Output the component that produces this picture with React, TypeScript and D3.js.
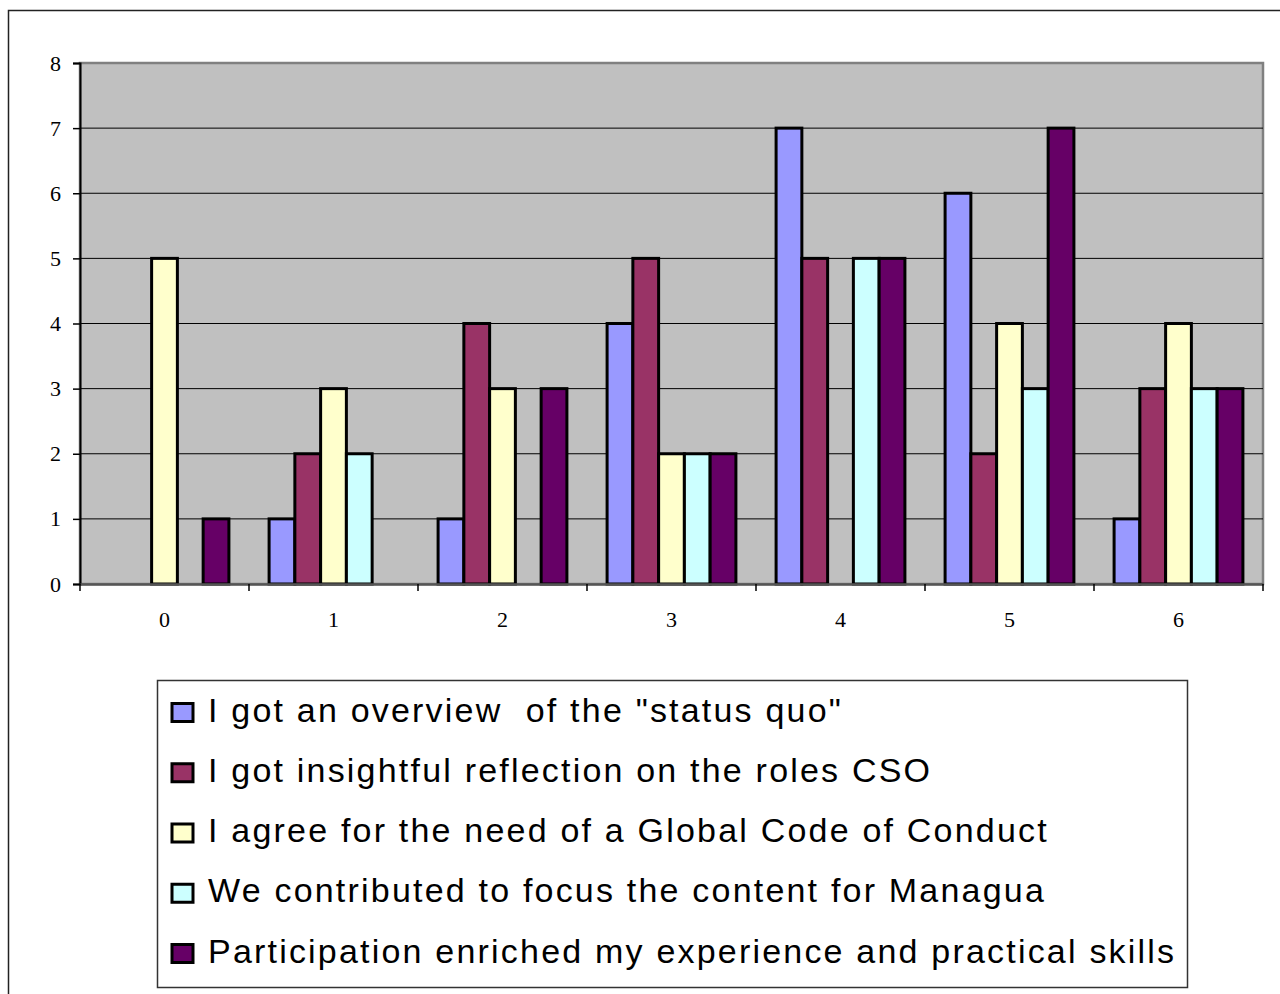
import React, { useRef, useEffect } from "react";
import * as d3 from "d3";

const categories = ["0", "1", "2", "3", "4", "5", "6"];
const seriesNames = [
  "I got an overview  of the \"status quo\"",
  "I got insightful reflection on the roles CSO",
  "I agree for the need of a Global Code of Conduct",
  "We contributed to focus the content for Managua",
  "Participation enriched my experience and practical skills",
];
const overview = [0, 1, 1, 4, 7, 6, 1];
const reflection = [0, 2, 4, 5, 5, 2, 3];
const codeOfConduct = [5, 3, 3, 2, 0, 4, 4];
const managua = [0, 2, 0, 2, 5, 3, 3];
const enriched = [1, 0, 3, 2, 5, 7, 3];
const colors = ["#9999FF", "#993366", "#FFFFCC", "#CCFFFF", "#660066"];
const yTicks = [0, 1, 2, 3, 4, 5, 6, 7, 8];

const App = () => {
  const ref = useRef<SVGSVGElement | null>(null);

  useEffect(() => {
    const series = [overview, reflection, codeOfConduct, managua, enriched];
    const width = 1280;
    const height = 994;
    const plot = { left: 80, right: 1263, top: 63, bottom: 584 };

    const svg = d3.select(ref.current);
    svg.selectAll("*").remove();

    // outer frame
    svg
      .append("rect")
      .attr("x", 8.5)
      .attr("y", 10.5)
      .attr("width", 1300)
      .attr("height", 1000)
      .attr("fill", "white")
      .attr("stroke", "#222")
      .attr("stroke-width", 1.5);

    const x = d3
      .scaleBand()
      .domain(categories)
      .range([plot.left, plot.right])
      .paddingInner(0)
      .paddingOuter(0);

    const xInner = d3
      .scaleBand()
      .domain(d3.range(series.length).map(String))
      .range([0, x.bandwidth()])
      .paddingOuter(0.78)
      .paddingInner(0);

    const y = d3.scaleLinear().domain([0, 8]).range([plot.bottom, plot.top]);

    // plot background
    svg
      .append("rect")
      .attr("x", plot.left)
      .attr("y", plot.top)
      .attr("width", plot.right - plot.left)
      .attr("height", plot.bottom - plot.top)
      .attr("fill", "#C0C0C0")
      .attr("stroke", "#808080")
      .attr("stroke-width", 2.5);

    // gridlines
    svg
      .append("g")
      .selectAll("line")
      .data(yTicks.filter((t) => t > 0 && t < 8))
      .join("line")
      .attr("x1", plot.left)
      .attr("x2", plot.right)
      .attr("y1", (d) => y(d))
      .attr("y2", (d) => y(d))
      .attr("stroke", "#000")
      .attr("stroke-width", 1);

    // bars
    const groups = svg
      .append("g")
      .selectAll("g")
      .data(categories)
      .join("g")
      .attr("transform", (d) => `translate(${x(d)},0)`);

    groups
      .selectAll("rect")
      .data((d, i) => series.map((s, k) => ({ k, v: s[i] })).filter((e) => e.v > 0))
      .join("rect")
      .attr("x", (d) => xInner(String(d.k))!)
      .attr("y", (d) => y(d.v))
      .attr("width", xInner.bandwidth())
      .attr("height", (d) => y(0) - y(d.v))
      .attr("fill", (d) => colors[d.k])
      .attr("stroke", "#000")
      .attr("stroke-width", 3);

    // y axis
    const yAxis = svg
      .append("g")
      .attr("transform", `translate(${plot.left},0)`)
      .call(d3.axisLeft(y).tickValues(yTicks).tickSize(7).tickPadding(12));
    yAxis.select(".domain").attr("stroke", "#000").attr("stroke-width", 2);
    yAxis.selectAll(".tick line").attr("stroke", "#000").attr("stroke-width", 1.5);
    yAxis
      .selectAll(".tick text")
      .attr("font-family", "'Liberation Serif', 'Times New Roman', serif")
      .attr("font-size", 22)
      .attr("fill", "#000");

    // x axis
    const xAxis = svg
      .append("g")
      .attr("transform", `translate(0,${plot.bottom})`)
      .call(d3.axisBottom(x).tickSize(0).tickPadding(27));
    xAxis.select(".domain").attr("stroke", "#555").attr("stroke-width", 2.5);
    xAxis
      .selectAll(".tick text")
      .attr("font-family", "'Liberation Serif', 'Times New Roman', serif")
      .attr("font-size", 22)
      .attr("fill", "#000");

    svg
      .append("g")
      .selectAll("line")
      .data(categories.concat(["end"]))
      .join("line")
      .attr("x1", (d, i) => plot.left + i * x.bandwidth())
      .attr("x2", (d, i) => plot.left + i * x.bandwidth())
      .attr("y1", plot.bottom)
      .attr("y2", plot.bottom + 7)
      .attr("stroke", "#000")
      .attr("stroke-width", 1.5);

    // legend
    const legend = svg.append("g");
    legend
      .append("rect")
      .attr("x", 157.5)
      .attr("y", 680.5)
      .attr("width", 1030)
      .attr("height", 307)
      .attr("fill", "white")
      .attr("stroke", "#333")
      .attr("stroke-width", 1.5);

    const rowY = d3.scalePoint().domain(seriesNames).range([710, 951]);

    const items = legend
      .selectAll("g")
      .data(seriesNames)
      .join("g")
      .attr("transform", (d) => `translate(0,${rowY(d)})`);

    items
      .append("rect")
      .attr("x", 172)
      .attr("y", -6.5)
      .attr("width", 21)
      .attr("height", 18)
      .attr("fill", (d, i) => colors[i])
      .attr("stroke", "#000")
      .attr("stroke-width", 3);

    items
      .append("text")
      .attr("x", 208)
      .attr("y", 11.5)
      .attr("font-family", "'Liberation Sans', Arial, sans-serif")
      .attr("font-size", 34)
      .attr("letter-spacing", 2.2)
      .attr("fill", "#000")
      .style("white-space", "pre")
      .text((d) => d);

    svg.attr("width", width).attr("height", height);
  }, []);

  return (
    <svg
      ref={ref}
      width={1280}
      height={994}
      style={{ position: "absolute", left: 0, top: 0, display: "block" }}
    />
  );
};

export default App;
